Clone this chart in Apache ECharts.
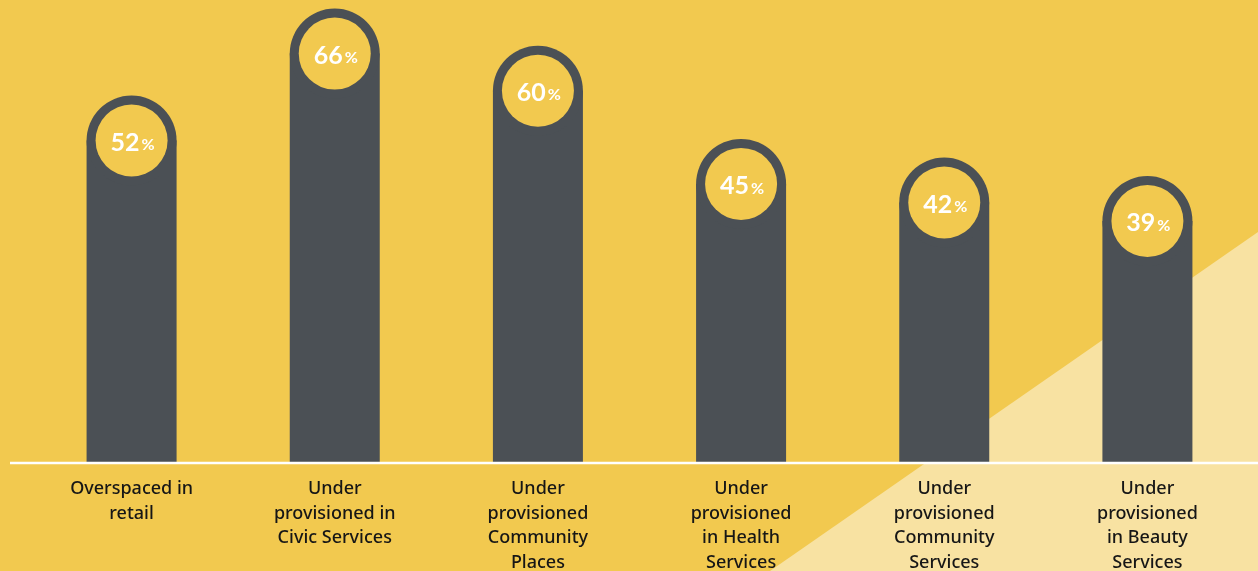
<!DOCTYPE html>
<html>
<head>
<meta charset="utf-8">
<script src="https://cdn.jsdelivr.net/npm/echarts@6/dist/echarts.min.js"></script>
<style>
  html, body { margin: 0; padding: 0; background: #F2C94F; }
  #chart { width: 1258px; height: 571px; }
</style>
</head>
<body>
<div id="chart"></div>
<script>
const categories = [
  'Overspaced in\nretail',
  'Under\nprovisioned in\nCivic Services',
  'Under\nprovisioned\nCommunity\nPlaces',
  'Under\nprovisioned\nin Health\nServices',
  'Under\nprovisioned\nCommunity\nServices',
  'Under\nprovisioned\nin Beauty\nServices'
]
const shares = [52, 66, 60, 45, 42, 39]

const dark = '#4B5055'
const yellow = '#F2C94F'
const pale = '#F8E2A2'

const chart = echarts.init(document.getElementById('chart'))

chart.setOption({
  backgroundColor: yellow,
  animation: false,
  graphic: [
    {
      type: 'polygon',
      z: -10,
      silent: true,
      shape: { points: [[770, 571], [1258, 232], [1258, 571]] },
      style: { fill: pale }
    },
    {
      type: 'line',
      z: 10,
      silent: true,
      shape: { x1: 10, y1: 463, x2: 1258, y2: 463 },
      style: { stroke: '#ffffff', lineWidth: 2.5 }
    }
  ],
  grid: { left: 30, right: 9, top: 4, bottom: 108, outerBoundsMode: 'none', containLabel: false },
  xAxis: {
    type: 'category',
    data: categories,
    axisLine: { show: false },
    axisTick: { show: false },
    axisLabel: {
      interval: 0,
      margin: 14,
      color: '#161616',
      fontFamily: 'Noto Sans',
      fontWeight: 500,
      fontSize: 18,
      lineHeight: 24.5
    }
  },
  yAxis: {
    type: 'value',
    min: 0,
    max: 74,
    show: false,
    splitLine: { show: false }
  },
  series: [
    {
      type: 'custom',
      data: shares.map((v, i) => [i, v]),
      renderItem(params, api) {
        const c = api.coord([api.value(0), api.value(1)])
        const base = api.coord([api.value(0), 0])
        const half = 45
        return {
          type: 'group',
          children: [
            {
              type: 'rect',
              shape: { x: c[0] - half, y: c[1], width: half * 2, height: base[1] - c[1] },
              style: { fill: dark }
            },
            {
              type: 'circle',
              shape: { cx: c[0], cy: c[1], r: half },
              style: { fill: dark }
            },
            {
              type: 'circle',
              shape: { cx: c[0], cy: c[1], r: 36 },
              style: { fill: yellow }
            },
            {
              type: 'text',
              x: c[0] + 1,
              y: c[1] + 2,
              style: {
                text: '{n|' + api.value(1) + '}{p|%}',
                align: 'center',
                verticalAlign: 'middle',
                rich: {
                  n: { fontFamily: 'Lato', fontWeight: 'bold', fontSize: 25, fill: '#ffffff' },
                  p: { fontFamily: 'Lato', fontWeight: 'bold', fontSize: 16, fill: '#ffffff', padding: [5, 0, 0, 2] }
                }
              }
            }
          ]
        }
      }
    }
  ]
})
</script>
</body>
</html>
